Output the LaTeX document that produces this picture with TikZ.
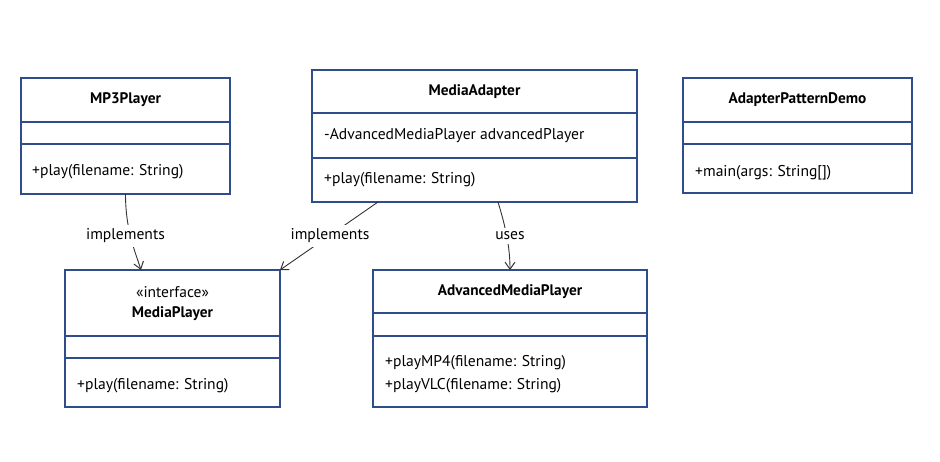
\documentclass[tikz,border=0pt]{standalone}
\usepackage{fontspec}
\setmainfont{PT Sans}
\usetikzlibrary{arrows.meta,calc}
\definecolor{boxline}{HTML}{2E4D8A}
\definecolor{edgeline}{HTML}{333333}
\tikzset{
  classbox/.style={draw=boxline, line width=1.2pt, fill=white, rectangle, inner sep=0pt, outer sep=0pt, anchor=north west},
  divider/.style={draw=boxline, line width=1.1pt},
  ctitle/.style={font=\fontsize{15.3}{17}\selectfont\bfseries, inner sep=0pt, anchor=center},
  cstereo/.style={font=\fontsize{15.5}{17}\selectfont, inner sep=0pt, anchor=center},
  member/.style={font=\fontsize{15.6}{17}\selectfont, inner sep=0pt, anchor=west},
  edgelabel/.style={font=\fontsize{15.6}{17}\selectfont, fill=white, inner sep=4pt},
  relation/.style={draw=edgeline, line width=0.9pt, -{Straight Barb[length=7pt,width=10pt,line width=1pt]}},
}
\begin{document}
\begin{tikzpicture}[x=1pt,y=-1pt]
\useasboundingbox (0,0) rectangle (940,462);
% MP3Player
\node[classbox, minimum width=209pt, minimum height=116pt] (mp3) at (21,78) {};
\draw[divider] (21,122) -- (230,122);
\draw[divider] (21,144) -- (230,144);
\node[ctitle] (mp3t) at (125.5,100) {MP3Player};
\node[member] (mp3m) at (32,172) {+play(filename: String)};
% MediaAdapter
\node[classbox, minimum width=325pt, minimum height=132pt] (ma) at (312,70) {};
\draw[divider] (312,113) -- (637,113);
\draw[divider] (312,158) -- (637,158);
\node[ctitle] (mat) at (474.5,92) {MediaAdapter};
\node[member] (maa) at (324,136) {-AdvancedMediaPlayer advancedPlayer};
\node[member] (mam) at (324,180) {+play(filename: String)};
% AdapterPatternDemo
\node[classbox, minimum width=229pt, minimum height=115pt] (apd) at (683,78) {};
\draw[divider] (683,122) -- (912,122);
\draw[divider] (683,144) -- (912,144);
\node[ctitle] (apdt) at (797.5,100) {AdapterPatternDemo};
\node[member] (apdm) at (695,173) {+main(args: String[])};
% MediaPlayer
\node[classbox, minimum width=215pt, minimum height=137pt] (mp) at (65,270) {};
\draw[divider] (65,336) -- (280,336);
\draw[divider] (65,358) -- (280,358);
\node[cstereo] (mps) at (172.5,292) {«interface»};
\node[ctitle] (mpt) at (172.5,314) {MediaPlayer};
\node[member] (mpm) at (77,386) {+play(filename: String)};
% AdvancedMediaPlayer
\node[classbox, minimum width=274pt, minimum height=137pt] (amp) at (373,270) {};
\draw[divider] (373,313) -- (647,313);
\draw[divider] (373,336) -- (647,336);
\node[ctitle] (ampt) at (510,292) {AdvancedMediaPlayer};
\node[member] (ampm1) at (385,363) {+playMP4(filename: String)};
\node[member] (ampm2) at (385,386) {+playVLC(filename: String)};
% connectors
\coordinate (mpin) at ($(mp.north west)+(76,0)$);
\coordinate (maout1) at ($(ma.south west)+(66,0)$);
\coordinate (maout2) at ($(ma.south west)+(186,0)$);
\draw[relation] (mp3.south) .. controls ($(mp3.south)+(0,36)$) and ($(mpin)+(-6,-19)$) .. (mpin);
\draw[relation] (maout1) -- (mp.north east);
\draw[relation] (maout2) .. controls ($(maout2)+(7,23)$) and ($(amp.north)+(0,-24)$) .. (amp.north);
\node[edgelabel] (l1) at (125.5,236) {implements};
\node[edgelabel] (l2) at (330,236) {implements};
\node[edgelabel] (l3) at (510,236) {uses};
\end{tikzpicture}
\end{document}
